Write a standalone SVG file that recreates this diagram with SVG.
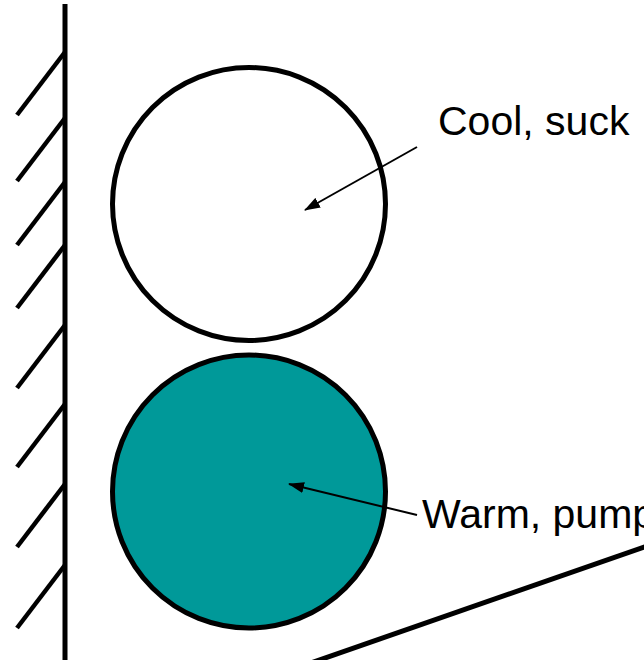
<svg xmlns="http://www.w3.org/2000/svg" width="644" height="660" viewBox="0 0 644 660">
<style>
.thick{stroke:#000;stroke-width:5;fill:none}
.hatch{stroke:#000;stroke-width:4.5;fill:none}
.lbl{font-family:"Liberation Sans",Arial,sans-serif;font-size:41px;fill:#000}
.ptr{stroke:#000;stroke-width:2;fill:none;marker-end:url(#ah)}
</style>
<defs>
<marker id="ah" viewBox="0 0 16 11" refX="15" refY="5.5" markerWidth="16" markerHeight="11" markerUnits="userSpaceOnUse" orient="auto">
<path d="M0,0 L16,5.5 L0,11 Z" fill="#000"/>
</marker>
</defs>
<rect width="644" height="660" fill="#fff"/>
<g id="wall">
<line class="thick" x1="65" y1="4" x2="65" y2="660" stroke-width="6"/>
<line class="hatch" x1="65" y1="52" x2="17" y2="115"/>
<line class="hatch" x1="65" y1="118" x2="17" y2="181"/>
<line class="hatch" x1="65" y1="182" x2="17" y2="245"/>
<line class="hatch" x1="65" y1="245" x2="17" y2="308"/>
<line class="hatch" x1="65" y1="325" x2="17" y2="388"/>
<line class="hatch" x1="65" y1="404" x2="17" y2="467"/>
<line class="hatch" x1="65" y1="484" x2="17" y2="547"/>
<line class="hatch" x1="65" y1="565" x2="17" y2="628"/>
</g>
<g id="cool">
<circle cx="249" cy="204" r="136.5" fill="#fff" stroke="#000" stroke-width="5"/>
</g>
<g id="warm">
<circle cx="249" cy="491.5" r="136.5" fill="#009999" stroke="#000" stroke-width="5"/>
</g>
<g id="floor">
<line class="thick" x1="305" y1="665" x2="650" y2="545"/>
</g>
<g id="labels">
<text class="lbl" x="438" y="135">Cool, suck</text>
<text class="lbl" x="422" y="528">Warm, pump</text>
</g>
<g id="connectors">
<line class="ptr" x1="417" y1="147" x2="305" y2="210"/>
<line class="ptr" x1="417" y1="515" x2="289" y2="484"/>
</g>
</svg>
